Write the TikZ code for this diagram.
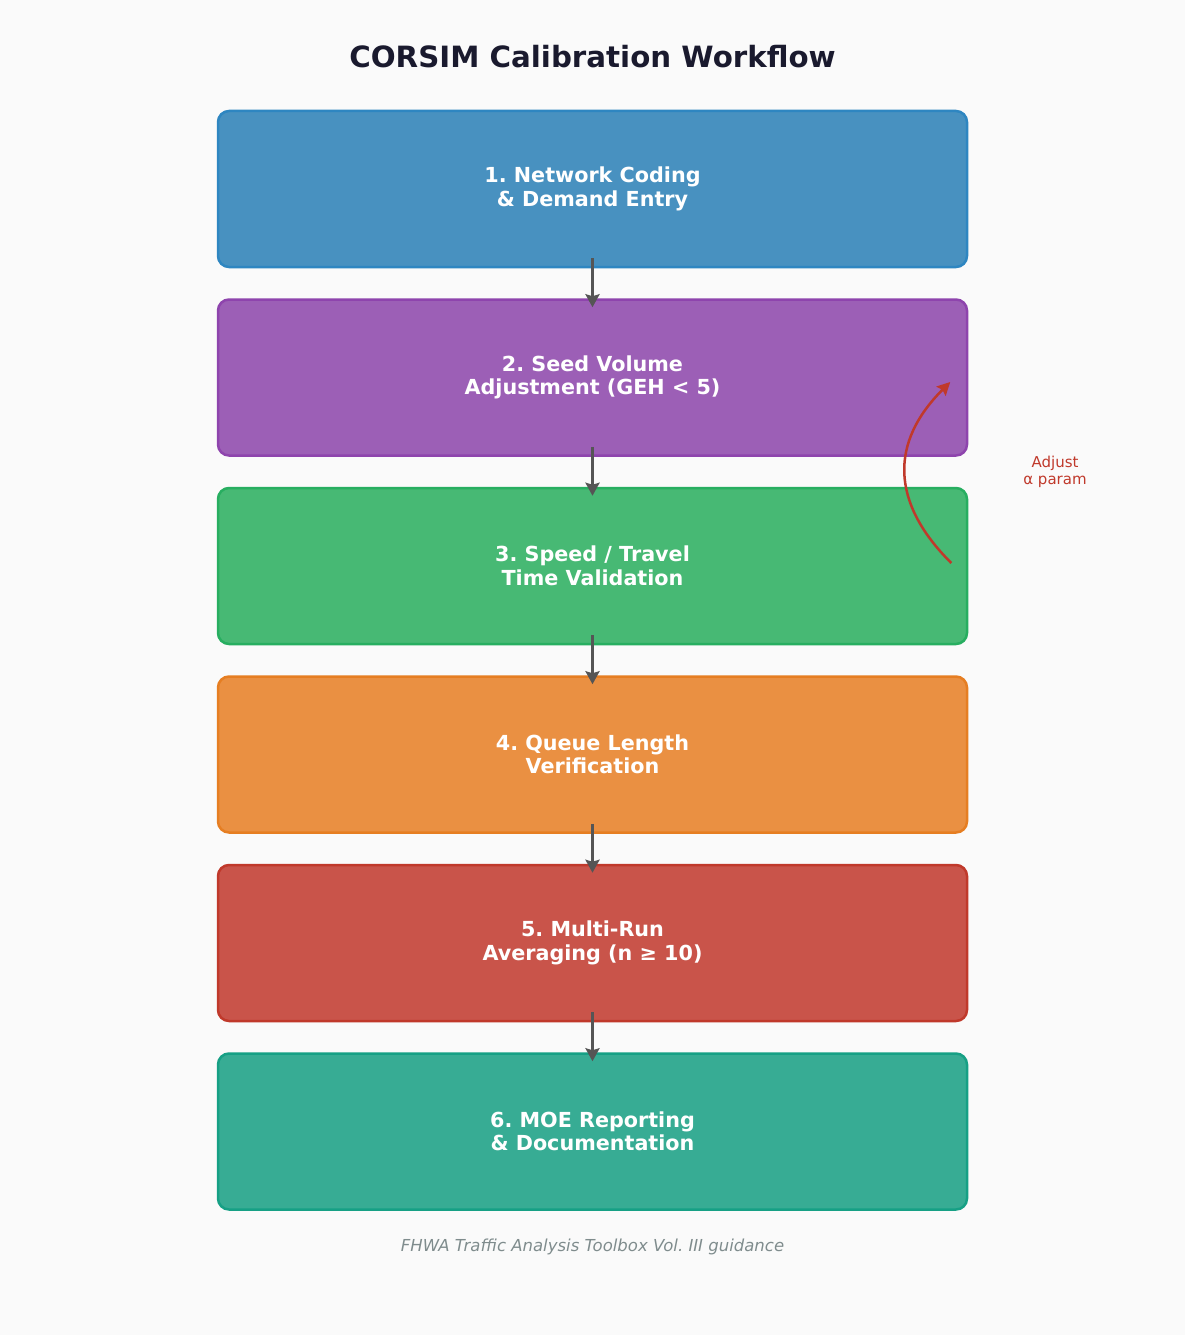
\documentclass[tikz,border=0pt]{standalone}
\usepackage{fontspec}
\setmainfont{DejaVu Sans}
\usetikzlibrary{arrows.meta}
\definecolor{bgcol}{HTML}{FAFAFA}
\definecolor{titlecol}{HTML}{1A1A2E}
\definecolor{footcol}{HTML}{7F8C8D}
\definecolor{arrowcol}{HTML}{555555}
\definecolor{loopcol}{HTML}{C0392B}
\definecolor{fillA}{HTML}{4891C0}\definecolor{lineA}{HTML}{2E86C1}
\definecolor{fillB}{HTML}{9C5FB6}\definecolor{lineB}{HTML}{8E44AD}
\definecolor{fillC}{HTML}{47B974}\definecolor{lineC}{HTML}{27AE60}
\definecolor{fillD}{HTML}{EA9042}\definecolor{lineD}{HTML}{E67E22}
\definecolor{fillE}{HTML}{C9544A}\definecolor{lineE}{HTML}{C0392B}
\definecolor{fillF}{HTML}{37AC94}\definecolor{lineF}{HTML}{16A085}
\tikzset{
  stagebox/.style={draw, line width=2.5pt, rounded corners=11pt,
    minimum width=749pt, minimum height=156pt, align=center,
    text=white, font=\fontsize{20.7}{23.5}\selectfont\bfseries\frenchspacing},
  flowarrow/.style={draw=arrowcol, line width=3pt, -{Stealth[length=13pt,width=14pt,inset=2pt]}},
}
\begin{document}
\begin{tikzpicture}[x=1pt,y=-1pt]
    \fill[bgcol] (0,0) rectangle (1185,1335);
    \useasboundingbox (0,0) rectangle (1185,1335);
    \node[text=titlecol,font=\fontsize{29.3}{34}\selectfont\bfseries] (title) at (592.5,57) {CORSIM Calibration Workflow};
    \node[stagebox,fill=fillA,draw=lineA] (s1) at (592.5,189) {1. Network Coding\\\& Demand Entry};
    \node[stagebox,fill=fillB,draw=lineB] (s2) at (592.5,377.5) {2. Seed Volume\\Adjustment (GEH < 5)};
    \node[stagebox,fill=fillC,draw=lineC] (s3) at (592.5,566) {3. Speed / Travel\\Time Validation};
    \node[stagebox,fill=fillD,draw=lineD] (s4) at (592.5,754.5) {4. Queue Length\\Verification};
    \node[stagebox,fill=fillE,draw=lineE] (s5) at (592.5,943) {5. Multi-Run\\Averaging (n ≥ 10)};
    \node[stagebox,fill=fillF,draw=lineF] (s6) at (592.5,1131.5) {6. MOE Reporting\\\& Documentation};
    % main flow
    \draw[flowarrow] ([yshift=10pt]s1.south) -- ([yshift=-9pt]s2.north);
    \draw[flowarrow] ([yshift=10pt]s2.south) -- ([yshift=-9pt]s3.north);
    \draw[flowarrow] ([yshift=10pt]s3.south) -- ([yshift=-9pt]s4.north);
    \draw[flowarrow] ([yshift=10pt]s4.south) -- ([yshift=-9pt]s5.north);
    \draw[flowarrow] ([yshift=10pt]s5.south) -- ([yshift=-9pt]s6.north);
    % feedback loop
    \coordinate (loopfrom) at ([xshift=-17pt,yshift=3pt]s3.east);
    \coordinate (loopto) at ([xshift=-18pt,yshift=-4.5pt]s2.east);
    \draw[loopcol, line width=2.5pt, -{Stealth[length=13pt,width=13pt,inset=2pt]}] (loopfrom) .. controls (890,502) and (890,442) .. (loopto);
    \node[text=loopcol,align=center,font=\fontsize{15}{17.5}\selectfont] (looplabel) at (1055,472) {Adjust\\α param};
    \node[text=footcol,font=\fontsize{16.5}{20}\selectfont\itshape\frenchspacing] (footer) at (592.5,1247) {FHWA Traffic Analysis Toolbox Vol. III guidance};
\end{tikzpicture}
\end{document}
